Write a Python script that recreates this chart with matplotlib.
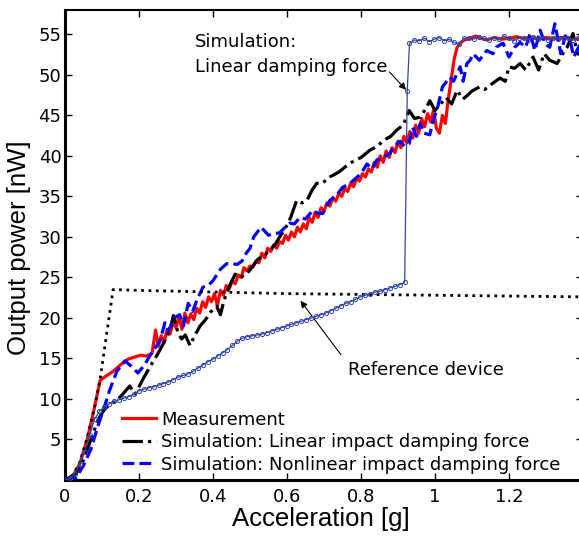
import numpy as np
import matplotlib
matplotlib.use("Agg")
import matplotlib.pyplot as plt

# ---------------- data ----------------
meas_x = [0.000, 0.020, 0.040, 0.060, 0.080, 0.095, 0.110, 0.130, 0.150, 0.170, 0.190, 0.205, 0.220, 0.235,
          0.245, 0.252, 0.260, 0.268, 0.276, 0.284, 0.292, 0.300, 0.308, 0.316, 0.324, 0.332, 0.340, 0.348,
          0.356, 0.364, 0.372, 0.380, 0.388, 0.396, 0.404, 0.412, 0.420, 0.428, 0.436, 0.444, 0.452, 0.460,
          0.468, 0.476, 0.484, 0.492, 0.500, 0.508, 0.516, 0.524, 0.532, 0.540, 0.548, 0.556, 0.564, 0.572,
          0.580, 0.588, 0.596, 0.604, 0.612, 0.620, 0.628, 0.636, 0.644, 0.652, 0.660, 0.668, 0.676, 0.684,
          0.692, 0.700, 0.708, 0.716, 0.724, 0.732, 0.740, 0.748, 0.756, 0.764, 0.772, 0.780, 0.788, 0.796,
          0.804, 0.812, 0.820, 0.828, 0.836, 0.844, 0.852, 0.860, 0.868, 0.876, 0.884, 0.892, 0.900, 0.908,
          0.916, 0.924, 0.932, 0.940, 0.948, 0.956, 0.964, 0.972, 0.980, 0.988, 0.996, 1.004, 1.012, 1.020,
          1.028, 1.036, 1.044, 1.052, 1.060, 1.070, 1.080, 1.095, 1.110, 1.125, 1.140, 1.160, 1.180, 1.200,
          1.220, 1.240, 1.260, 1.280, 1.300, 1.320, 1.340, 1.360, 1.380, 1.400]
meas_y = [0.0, 0.4, 2.0, 5.0, 9.0, 12.3, 12.8, 13.4, 14.2, 14.9, 15.2, 15.4, 15.3, 15.6,
          18.5, 16.5, 17.8, 17.0, 18.6, 18.0, 19.5, 18.8, 20.2, 18.6, 20.6, 19.4, 20.5, 19.8,
          21.2, 20.6, 22.0, 21.3, 22.6, 22.0, 23.0, 21.5, 23.4, 22.8, 24.0, 23.6, 24.6, 24.2,
          25.3, 25.0, 26.2, 25.8, 26.4, 26.3, 27.0, 26.8, 28.0, 27.4, 28.6, 28.2, 29.0, 28.6,
          29.4, 29.2, 30.2, 29.6, 30.6, 30.0, 31.2, 30.6, 31.6, 31.0, 32.4, 31.8, 33.0, 32.4,
          33.6, 33.2, 34.2, 33.8, 34.8, 34.4, 35.4, 35.0, 36.0, 35.6, 36.6, 36.2, 37.2, 36.9,
          37.8, 37.4, 38.4, 38.0, 39.2, 38.6, 40.0, 39.2, 40.6, 39.8, 41.0, 40.4, 41.8, 41.0,
          42.4, 41.6, 43.0, 42.2, 43.8, 42.8, 44.6, 43.6, 45.2, 44.2, 45.6, 43.4, 42.8, 45.0,
          44.0, 47.0, 49.5, 52.0, 53.4, 54.0, 54.3, 54.5, 54.8, 54.5, 54.3, 54.6, 54.4, 54.5,
          54.7, 54.5, 54.6, 54.4, 54.6, 54.5, 54.6, 54.5, 54.4, 54.5]

lin_x = [0.0, 0.03, 0.05, 0.07, 0.09, 0.105, 0.12, 0.14, 0.16, 0.175, 0.19, 0.21, 0.23, 0.25, 0.27, 0.285,
         0.293, 0.305, 0.315, 0.325, 0.338, 0.35, 0.365, 0.38, 0.395, 0.41, 0.42, 0.43, 0.445, 0.46, 0.475,
         0.49, 0.505, 0.52, 0.54, 0.555, 0.57, 0.58, 0.595, 0.61, 0.626, 0.64, 0.654, 0.668, 0.68, 0.695,
         0.716, 0.74, 0.77, 0.80, 0.824, 0.845, 0.86, 0.88, 0.897, 0.914, 0.93, 0.945, 0.96, 0.975, 0.986,
         1.0, 1.015, 1.03, 1.045, 1.06, 1.075, 1.086, 1.10, 1.12, 1.135, 1.157, 1.176, 1.19, 1.20, 1.215,
         1.23, 1.245, 1.265, 1.28, 1.295, 1.31, 1.33, 1.345, 1.357, 1.373, 1.385, 1.40]
lin_y = [0.0, 0.8, 2.5, 5.0, 7.5, 8.6, 9.3, 9.8, 10.8, 11.6, 10.6, 12.4, 14.0, 15.5, 17.2, 18.8,
         20.3, 18.2, 17.4, 17.9, 16.6, 17.8, 19.0, 19.8, 20.8, 21.4, 20.4, 22.2, 24.0, 25.4, 25.0,
         25.4, 26.2, 27.2, 27.8, 28.4, 29.2, 30.0, 31.0, 32.4, 34.5, 34.2, 34.5, 35.8, 36.6, 36.6,
         37.4, 38.0, 39.1, 39.8, 40.7, 41.2, 41.9, 42.4, 43.2, 43.8, 45.6, 44.6, 44.8, 45.8, 46.8,
         45.6, 46.4, 47.2, 46.4, 48.1, 47.0, 47.4, 48.0, 48.5, 48.2, 49.0, 49.6, 49.2, 51.0, 50.8,
         51.4, 50.6, 52.2, 50.6, 52.6, 51.8, 51.4, 52.6, 53.4, 55.1, 52.6, 52.4]

nl_x = [0.0, 0.03, 0.05, 0.07, 0.09, 0.105, 0.12, 0.14, 0.162, 0.18, 0.197, 0.215, 0.23, 0.245, 0.257,
        0.27, 0.28, 0.295, 0.31, 0.32, 0.333, 0.345, 0.358, 0.373, 0.387, 0.40, 0.42, 0.437, 0.452, 0.465,
        0.478, 0.49, 0.50, 0.51, 0.53, 0.55, 0.565, 0.58, 0.595, 0.608, 0.62, 0.635, 0.65, 0.67, 0.683,
        0.697, 0.716, 0.735, 0.75, 0.77, 0.79, 0.80, 0.816, 0.83, 0.843, 0.86, 0.878, 0.89, 0.905, 0.918,
        0.93, 0.94, 0.95, 0.96, 0.97, 0.986, 0.995, 1.005, 1.02, 1.04, 1.05, 1.068, 1.076, 1.086, 1.095,
        1.103, 1.12, 1.14, 1.157, 1.165, 1.184, 1.2, 1.215, 1.23, 1.245, 1.257, 1.27, 1.284, 1.298, 1.31,
        1.324, 1.34, 1.352, 1.365, 1.375, 1.39, 1.40]
nl_y = [0.0, 0.3, 1.8, 3.8, 6.8, 8.8, 11.0, 13.4, 14.7, 14.0, 13.2, 14.2, 15.4, 16.4, 17.2,
        19.4, 18.4, 20.0, 20.4, 19.0, 21.8, 20.8, 22.4, 23.8, 24.0, 24.6, 26.0, 26.7, 26.7, 26.6,
        27.0, 28.0, 28.6, 30.0, 31.2, 30.2, 30.4, 30.5, 31.2, 31.7, 31.6, 32.4, 32.2, 33.3, 32.9,
        32.9, 34.5, 35.2, 36.1, 36.6, 37.4, 37.8, 39.0, 38.4, 39.5, 39.8, 40.3, 41.2, 41.8, 41.2,
        41.5, 43.5, 42.4, 44.0, 42.8, 42.6, 44.4, 45.6, 48.5, 49.7, 49.2, 51.0, 49.2, 51.4, 51.8,
        52.6, 51.8, 53.0, 52.6, 53.4, 53.9, 52.2, 53.4, 54.0, 53.4, 55.1, 53.0, 55.5, 53.8, 53.4,
        56.3, 52.6, 54.8, 54.3, 52.2, 53.6, 53.0]

ref_x = [0.0, 0.02, 0.04, 0.06, 0.08, 0.095, 0.13, 0.2, 0.4, 0.6, 0.8, 1.0, 1.2, 1.4]
ref_y = [0.0, 0.5, 2.2, 5.2, 9.0, 12.5, 23.5, 23.4, 23.2, 23.0, 22.9, 22.8, 22.7, 22.6]

# linear damping force simulation (marked), evenly sampled acceleration
lindamp_low_y = [0.0, 0.2, 0.8, 2.0, 3.5, 5.5, 7.5, 8.5, 9.0, 9.4, 9.7, 9.9, 10.1, 10.3, 10.6, 11.0,
                 11.2, 11.4, 11.5, 11.7, 11.9, 12.1, 12.4, 12.7, 12.9, 13.1, 13.4, 13.8, 14.2, 14.6,
                 14.9, 15.3, 15.7, 16.1, 16.6, 17.1, 17.5, 17.7, 17.8, 17.9, 18.0, 18.2, 18.4, 18.6,
                 18.8, 19.0, 19.2, 19.4, 19.6, 19.8, 20.0, 20.2, 20.4, 20.6, 20.9, 21.2, 21.5, 21.8,
                 22.0, 22.3, 22.6, 22.8, 23.0, 23.2, 23.3, 23.5, 23.7, 23.9, 24.1, 24.4]
lindamp_mid_x = [0.925]
lindamp_mid_y = [48.0]
lindamp_high_y = [53.9, 54.3, 54.2, 54.5, 54.1, 54.4, 54.6, 54.2, 54.4, 54.0, 53.8, 54.5, 54.6, 54.4,
                  54.7, 54.5, 54.3, 54.6, 54.4, 54.8, 54.5, 54.2, 54.6, 54.5, 54.3, 54.7, 54.4, 54.6,
                  54.3, 54.5, 54.4, 54.6, 54.5, 54.3, 54.5, 54.4]

ld_x = list(np.linspace(0.0, 0.918, len(lindamp_low_y))) + lindamp_mid_x + \
       list(np.linspace(0.931, 1.40, len(lindamp_high_y)))
ld_y = lindamp_low_y + lindamp_mid_y + lindamp_high_y

xticks = [0, 0.2, 0.4, 0.6, 0.8, 1, 1.2]
xticklabels = ["0", "0.2", "0.4", "0.6", "0.8", "1", "1.2"]
yticks = [5, 10, 15, 20, 25, 30, 35, 40, 45, 50, 55]

# ---------------- plot ----------------
plt.rcParams['font.family'] = ['DejaVu Sans']
LAB = ['Liberation Sans', 'DejaVu Sans']

W, H = 579, 536
fig = plt.figure(figsize=(W / 100, H / 100), dpi=100)
ax = fig.add_axes([65 / W, (H - 480) / H, 518 / W, 470 / H])

l1, = ax.plot(meas_x, meas_y, color='#ff0000', lw=2.3, zorder=3, label='Measurement')
l2, = ax.plot(lin_x, lin_y, color='black', lw=2.3, ls='-.', zorder=4,
              label='Simulation: Linear impact damping force')
l3, = ax.plot(nl_x, nl_y, color='#0000ff', lw=2.3, ls='--', zorder=5,
              label='Simulation: Nonlinear impact damping force')
ax.plot(ref_x, ref_y, color='black', lw=2.0, ls=':', zorder=6)
ax.plot(ld_x, ld_y, color='#2f45a8', lw=0.9, marker='o', ms=3.0, mfc='none', mew=0.7, zorder=7)

ax.set_xlim(0, 1.4)
ax.set_ylim(0, 58)
ax.set_xticks(xticks)
ax.set_xticklabels(xticklabels)
ax.set_yticks(yticks)
ax.tick_params(direction='in', length=5, width=1, top=True, right=True, labelsize=13)
ax.tick_params(axis='x', pad=6)
ax.tick_params(axis='y', pad=2.5)
for s in ['left', 'bottom']:
    ax.spines[s].set_linewidth(2.2)
for s in ['top', 'right']:
    ax.spines[s].set_linewidth(1.5)

ax.set_xlabel('Acceleration [g]', fontsize=18.5, family=LAB)
ax.set_ylabel('Output power [nW]', fontsize=18.5, family=LAB)
ax.xaxis.set_label_coords((321 - 65) / 518, (480 - 507) / 470)
ax.yaxis.set_label_coords((19.5 - 65) / 518, (480 - 247.5) / 470)
ax.yaxis.label.set_verticalalignment('center')
ax.yaxis.label.set_horizontalalignment('center')

ax.text(0.351, 53.4, 'Simulation:', fontsize=13, ha='left', va='baseline')
ax.text(0.351, 50.3, 'Linear damping force', fontsize=13, ha='left', va='baseline')
ax.annotate('', xy=(0.927, 47.9), xytext=(0.872, 50.6),
            arrowprops=dict(arrowstyle='-|>', color='black', lw=0.8, mutation_scale=10))
ax.text(0.764, 12.95, 'Reference device', fontsize=13, ha='left', va='baseline')
ax.annotate('', xy=(0.632, 22.4), xytext=(0.75, 15.2),
            arrowprops=dict(arrowstyle='-|>', color='black', lw=0.8, mutation_scale=10))

leg = ax.legend(handles=[l1, l2, l3], loc='upper left', bbox_to_anchor=(109 / W, 1 - 398 / H),
                bbox_transform=fig.transFigure, frameon=False, fontsize=13,
                handlelength=1.9, handletextpad=0.28, labelspacing=0.25, borderpad=0.2)

fig.savefig('out.png', dpi=100)
